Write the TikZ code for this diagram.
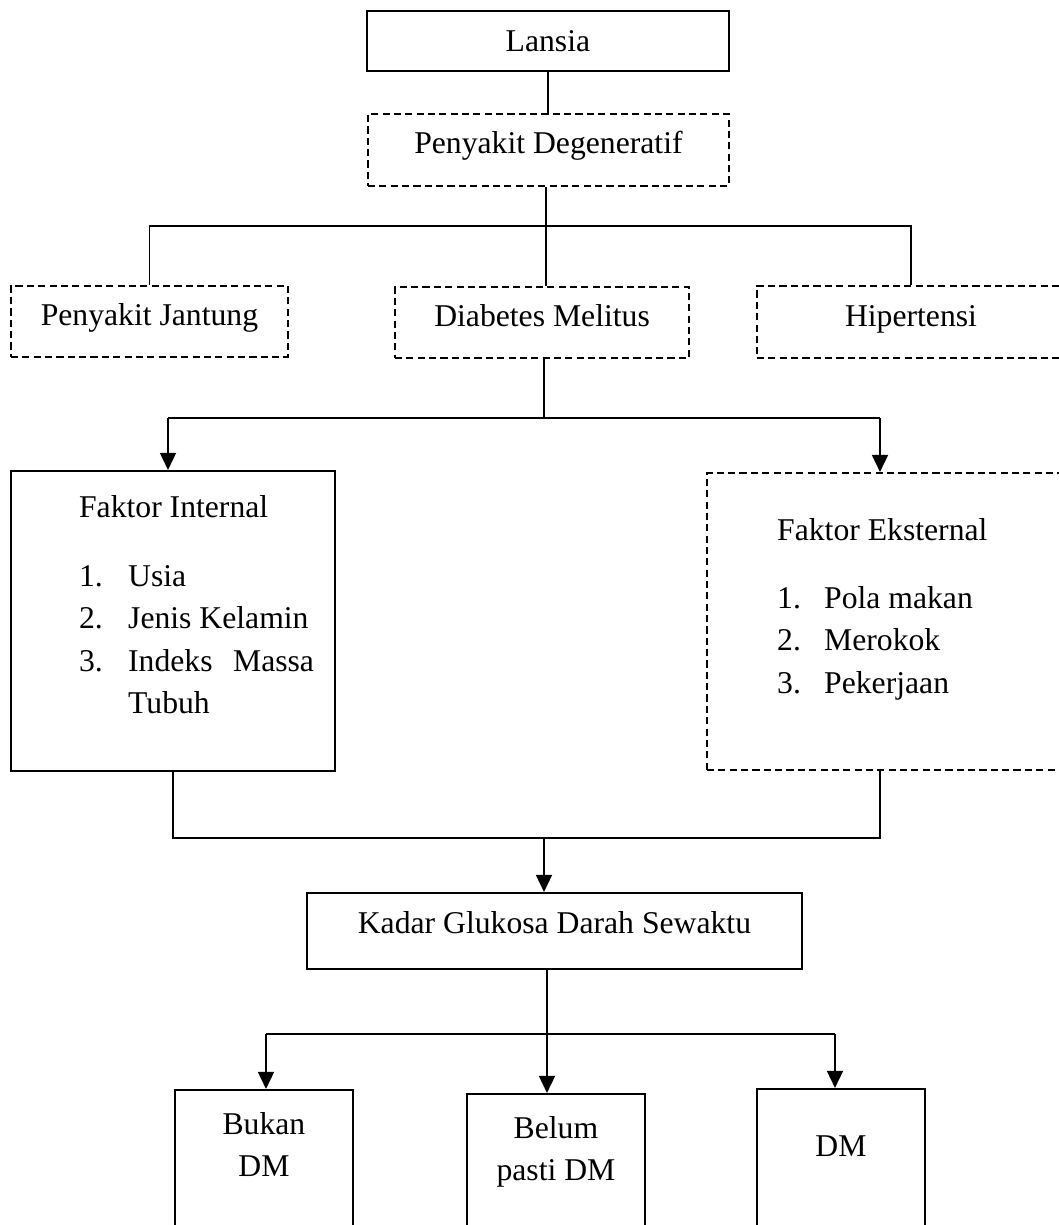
\documentclass[tikz,border=0pt]{standalone}
\usepackage{fontspec}
\setmainfont{Liberation Serif}
\usetikzlibrary{arrows.meta}
\tikzset{
  kotak/.style={draw, line width=0.75pt, inner sep=0pt, anchor=north west},
  putus/.style={kotak, dash pattern=on 2.7pt off 1.6pt},
  garis/.style={line width=0.6pt},
  panah/.style={line width=0.9pt, -{Triangle[width=6pt,length=6.5pt]}}
}

\begin{document}
\begin{tikzpicture}[x=0.3788pt, y=-0.3788pt, font=\fontsize{12}{16.1}\selectfont]
  \path[use as bounding box, clip] (0,0) rectangle (1059,1225);

  % kotak atas
  \node[kotak, minimum width=137.1pt, text height=15.5pt, text depth=7.2pt] (lansia) at (366,10) {Lansia};
  \node[putus, minimum width=136.7pt, text height=15.1pt, text depth=12.1pt] (degen) at (367,113) {Penyakit Degeneratif};

  % tiga penyakit
  \node[putus, minimum width=104.9pt, text height=15.1pt, text depth=11.7pt] (jantung) at (10,285) {Penyakit Jantung};
  \node[putus, minimum width=111.4pt, text height=15.1pt, text depth=11.7pt] (dm) at (394,286) {Diabetes Melitus};
  \node[putus, minimum width=116.7pt, text height=15.5pt, text depth=11.7pt] (hiper) at (756,285) {Hipertensi};

  % faktor
  \node[kotak, inner xsep=8pt, align=left] (internal) at (10,470) {%
    \hspace*{17.8pt}\rule{0pt}{17.8pt}Faktor Internal\\[9.7pt]
    \hspace*{17.8pt}\makebox[18.6pt][l]{1.}Usia\\
    \hspace*{17.8pt}\makebox[18.6pt][l]{2.}Jenis Kelamin\\
    \hspace*{17.8pt}\makebox[18.6pt][l]{3.}\makebox[70.4pt][s]{Indeks\hfill Massa}\\
    \hspace*{36.4pt}Tubuh\rule[-21.6pt]{0pt}{21.6pt}};
  \node[putus, inner xsep=8pt, align=left] (eksternal) at (706,472) {%
    \makebox[120.1pt][l]{\hspace*{18.6pt}\rule{0pt}{25.4pt}Faktor Eksternal}\\[9.7pt]
    \hspace*{18.6pt}\makebox[17.8pt][l]{1.}Pola makan\\
    \hspace*{18.6pt}\makebox[17.8pt][l]{2.}Merokok\\
    \hspace*{18.6pt}\makebox[17.8pt][l]{3.}Pekerjaan\rule[-29.2pt]{0pt}{29.2pt}};

  \node[kotak, minimum width=187.5pt, text height=15.5pt, text depth=13.3pt] (kadar) at (306,892) {Kadar Glukosa Darah Sewaktu};

  % hasil
  \node[kotak, minimum width=67.4pt, align=center] (bukan) at (174,1089) {\rule{0pt}{16.7pt}Bukan\\DM\rule[-25pt]{0pt}{25pt}};
  \node[kotak, minimum width=67.4pt, align=center] (belum) at (466,1093) {\rule{0pt}{16.7pt}Belum\\pasti DM\rule[-22.7pt]{0pt}{22.7pt}};
  \node[kotak, minimum width=63.6pt, align=center] (dmbox) at (756,1088) {\rule{0pt}{25.4pt}DM\rule[-32.2pt]{0pt}{32.2pt}};

  % titik cabang
  \coordinate (c1) at (546,226);
  \coordinate (c2) at (544,418);
  \coordinate (c2a) at (168,418);
  \coordinate (c2b) at (880,418);
  \coordinate (c3) at (544,838);
  \coordinate (c3a) at (173,838);
  \coordinate (c3b) at (880,838);
  \coordinate (c4) at (547,1034);
  \coordinate (c4a) at (266,1034);
  \coordinate (c4b) at (835,1034);

  % garis penghubung
  \draw[garis] (lansia.south) -- (lansia.south |- degen.north);
  \draw[garis] (degen.south -| c1) -- (c1);
  \draw[garis] (jantung.north) |- (c1) -| (hiper.north);
  \draw[garis] (c1) -- (c1 |- dm.north);

  \draw[garis] (dm.south -| c2) -- (c2);
  \draw[garis] (c2a) -- (c2b);
  \draw[panah] (c2a) -- (c2a |- internal.north);
  \draw[panah] (c2b) -- (c2b |- eksternal.north);

  \draw[garis] (internal.south -| c3a) -- (c3a) -- (c3b) -- (eksternal.south -| c3b);
  \draw[panah] (c3) -- (c3 |- kadar.north);

  \draw[garis] (c4a) -- (c4b);
  \draw[panah] (kadar.south -| c4) -- (c4 |- belum.north);
  \draw[panah] (c4a) -- (c4a |- bukan.north);
  \draw[panah] (c4b) -- (c4b |- dmbox.north);
\end{tikzpicture}
\end{document}
